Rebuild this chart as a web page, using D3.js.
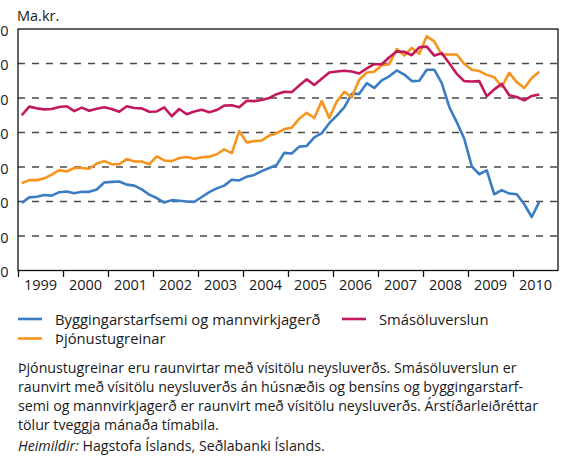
<!DOCTYPE html>
<html>
<head>
<meta charset="utf-8">
<script src="https://cdn.jsdelivr.net/npm/d3@7"></script>
<style>
  body { margin: 0; background: #fff; }
  svg text { font-family: "Open Sans", "Noto Sans", sans-serif; fill: #1a1a1a; }
</style>
</head>
<body>
<div id="chart"></div>
<script>
// bimonthly, seasonally adjusted, 1999 jan-feb .. 2010 jul-aug
var byggingar = [19.6, 21.2, 21.4, 21.9, 21.7, 22.7, 22.9, 22.4, 22.8, 22.8, 23.5, 25.5,
  25.7, 25.8, 24.9, 24.6, 23.5, 22.0, 21.0, 19.7, 20.4, 20.2, 20.0, 19.9,
  21.3, 22.7, 23.8, 24.6, 26.3, 26.1, 27.2, 27.7, 28.8, 29.7, 30.6, 34.1,
  33.9, 35.9, 36.1, 38.6, 39.8, 42.7, 44.9, 47.3, 51.2, 51.2, 54.3, 52.9,
  55.1, 56.3, 58.0, 56.8, 54.9, 55.0, 58.2, 58.2, 54.3, 47.4, 43.0, 38.2,
  30.2, 27.9, 29.0, 22.1, 23.3, 22.3, 22.1, 19.2, 15.5, 19.9];

var thjonusta = [25.3, 26.2, 26.2, 26.7, 27.8, 29.1, 28.7, 29.7, 29.7, 29.5, 31.0, 31.7,
  30.8, 30.8, 32.3, 31.6, 31.6, 30.8, 33.1, 31.9, 31.7, 32.6, 32.9, 32.4,
  32.8, 33.0, 33.7, 35.1, 34.0, 40.4, 37.1, 37.5, 37.7, 39.1, 39.8, 41.0,
  41.4, 44.0, 45.7, 44.2, 49.1, 44.2, 49.0, 51.8, 50.2, 55.3, 57.4, 57.6,
  59.5, 59.8, 64.2, 62.3, 64.5, 62.8, 67.9, 66.4, 62.6, 62.6, 62.6, 59.9,
  58.2, 57.8, 56.7, 56.0, 53.3, 57.3, 54.6, 52.9, 55.8, 57.6];

var smasala = [45.0, 47.5, 47.0, 46.7, 46.8, 47.4, 47.6, 46.2, 47.2, 46.3, 46.9, 47.3,
  46.8, 46.0, 47.6, 47.1, 47.0, 46.0, 46.1, 47.3, 44.7, 46.8, 45.3, 46.1,
  46.6, 45.9, 46.5, 47.8, 47.9, 47.3, 49.2, 49.1, 49.4, 50.0, 51.1, 51.8,
  51.7, 53.6, 55.4, 53.8, 55.6, 57.4, 57.7, 57.9, 57.7, 57.1, 58.6, 59.8,
  59.8, 61.8, 63.5, 63.4, 62.4, 64.7, 64.9, 62.3, 63.0, 60.1, 57.0, 54.9,
  54.8, 54.9, 50.5, 52.5, 54.1, 50.8, 50.3, 49.3, 50.6, 51.0];

var years = [1999, 2000, 2001, 2002, 2003, 2004, 2005, 2006, 2007, 2008, 2009, 2010];
var yTicks = [0, 10, 20, 30, 40, 50, 60, 70];

var seriesNames = ["Byggingarstarfsemi og mannvirkjagerð", "Þjónustugreinar", "Smásöluverslun"];
var seriesColors = ["#3a7dc4", "#f7941d", "#c2185e"];

var footnote = [
  "Þjónustugreinar eru raunvirtar með vísitölu neysluverðs. Smásöluverslun er",
  "raunvirt með vísitölu neysluverðs án húsnæðis og bensíns og byggingarstarf-",
  "semi og mannvirkjagerð er raunvirt með vísitölu neysluverðs. Árstíðarleiðréttar",
  "tölur tveggja mánaða tímabila."
];

var margin = { top: 29, right: 6, left: 18 },
    width  = 564,
    height = 457,
    plotBottom = 270.5;

var svg = d3.select("#chart")
  .append("svg")
  .attr("width", width)
  .attr("height", height);

// period i sits in the middle of its two months
var t = function (i) { return years[0] + (i + 0.5) / 6; };

var x = d3.scaleLinear()
  .domain([years[0], years[years.length - 1] + 1])
  .range([margin.left, width - margin.right]);

var y = d3.scaleLinear()
  .domain([0, 70])
  .range([plotBottom, margin.top]);

// dashed gridlines
svg.append("g")
  .selectAll("line")
  .data(yTicks.slice(1, -1))
  .enter().append("line")
  .attr("x1", x.range()[0]).attr("x2", x.range()[1])
  .attr("y1", d => y(d)).attr("y2", d => y(d))
  .attr("stroke", "#4a4a4a")
  .attr("stroke-width", 1.3)
  .attr("stroke-dasharray", "7,7");

// y labels, cut by the page edge as in the original
svg.append("g")
  .selectAll("text")
  .data(yTicks)
  .enter().append("text")
  .attr("x", margin.left - 9.5)
  .attr("y", d => y(d) + 1.5)
  .attr("dy", "0.35em")
  .attr("text-anchor", "end")
  .style("font-size", "14.5px")
  .text(d => d);

svg.append("text")
  .attr("x", 17)
  .attr("y", 21)
  .style("font-size", "14.5px")
  .text("Ma.kr.");

// lines
var line = d3.line()
  .x((d, i) => x(t(i)))
  .y(d => y(d));

[byggingar, thjonusta, smasala].forEach(function (s, k) {
  svg.append("path")
    .datum(s)
    .attr("d", line)
    .attr("fill", "none")
    .attr("stroke", seriesColors[k])
    .attr("stroke-width", 2.6)
    .attr("stroke-linejoin", "round");
});

// frame
svg.append("rect")
  .attr("x", x.range()[0])
  .attr("y", y(70))
  .attr("width", x.range()[1] - x.range()[0])
  .attr("height", y(0) - y(70))
  .attr("fill", "none")
  .attr("stroke", "#111")
  .attr("stroke-width", 1.3);

// x axis: ticks between years, labels in the middle
var x_axis = d3.axisBottom(x)
  .tickValues(years)
  .tickSize(6.5)
  .tickFormat("");

svg.append("g")
  .attr("transform", "translate(0," + plotBottom + ")")
  .call(x_axis)
  .call(g => g.select(".domain").remove())
  .call(g => g.selectAll("line").attr("stroke", "#111").attr("stroke-width", 1.3));

svg.append("g")
  .selectAll("text")
  .data(years)
  .enter().append("text")
  .attr("x", d => x(d + 0.5))
  .attr("y", 290)
  .attr("text-anchor", "middle")
  .style("font-size", "14.5px")
  .text(d => d);

// legend
var legendPos = [[18, 319], [18, 338.5], [342, 319]];

var legend = svg.append("g")
  .selectAll("g")
  .data(seriesNames)
  .enter().append("g")
  .attr("transform", (d, i) => "translate(" + legendPos[i][0] + "," + legendPos[i][1] + ")");

legend.append("line")
  .attr("x1", 0).attr("x2", 24)
  .attr("stroke", (d, i) => seriesColors[i])
  .attr("stroke-width", 2.6);

legend.append("text")
  .attr("x", 37)
  .attr("y", 5.5)
  .style("font-size", "14.8px")
  .text(d => d);

// footnote
svg.append("g")
  .selectAll("text")
  .data(footnote)
  .enter().append("text")
  .attr("x", 18)
  .attr("y", (d, i) => 373 + i * 19)
  .style("font-size", "14.2px")
  .text(d => d);

var src = svg.append("text")
  .attr("x", 18)
  .attr("y", 451)
  .style("font-size", "14.2px");
src.append("tspan").style("font-style", "italic").text("Heimildir:");
src.append("tspan").text(" Hagstofa Íslands, Seðlabanki Íslands.");
</script>
</body>
</html>
